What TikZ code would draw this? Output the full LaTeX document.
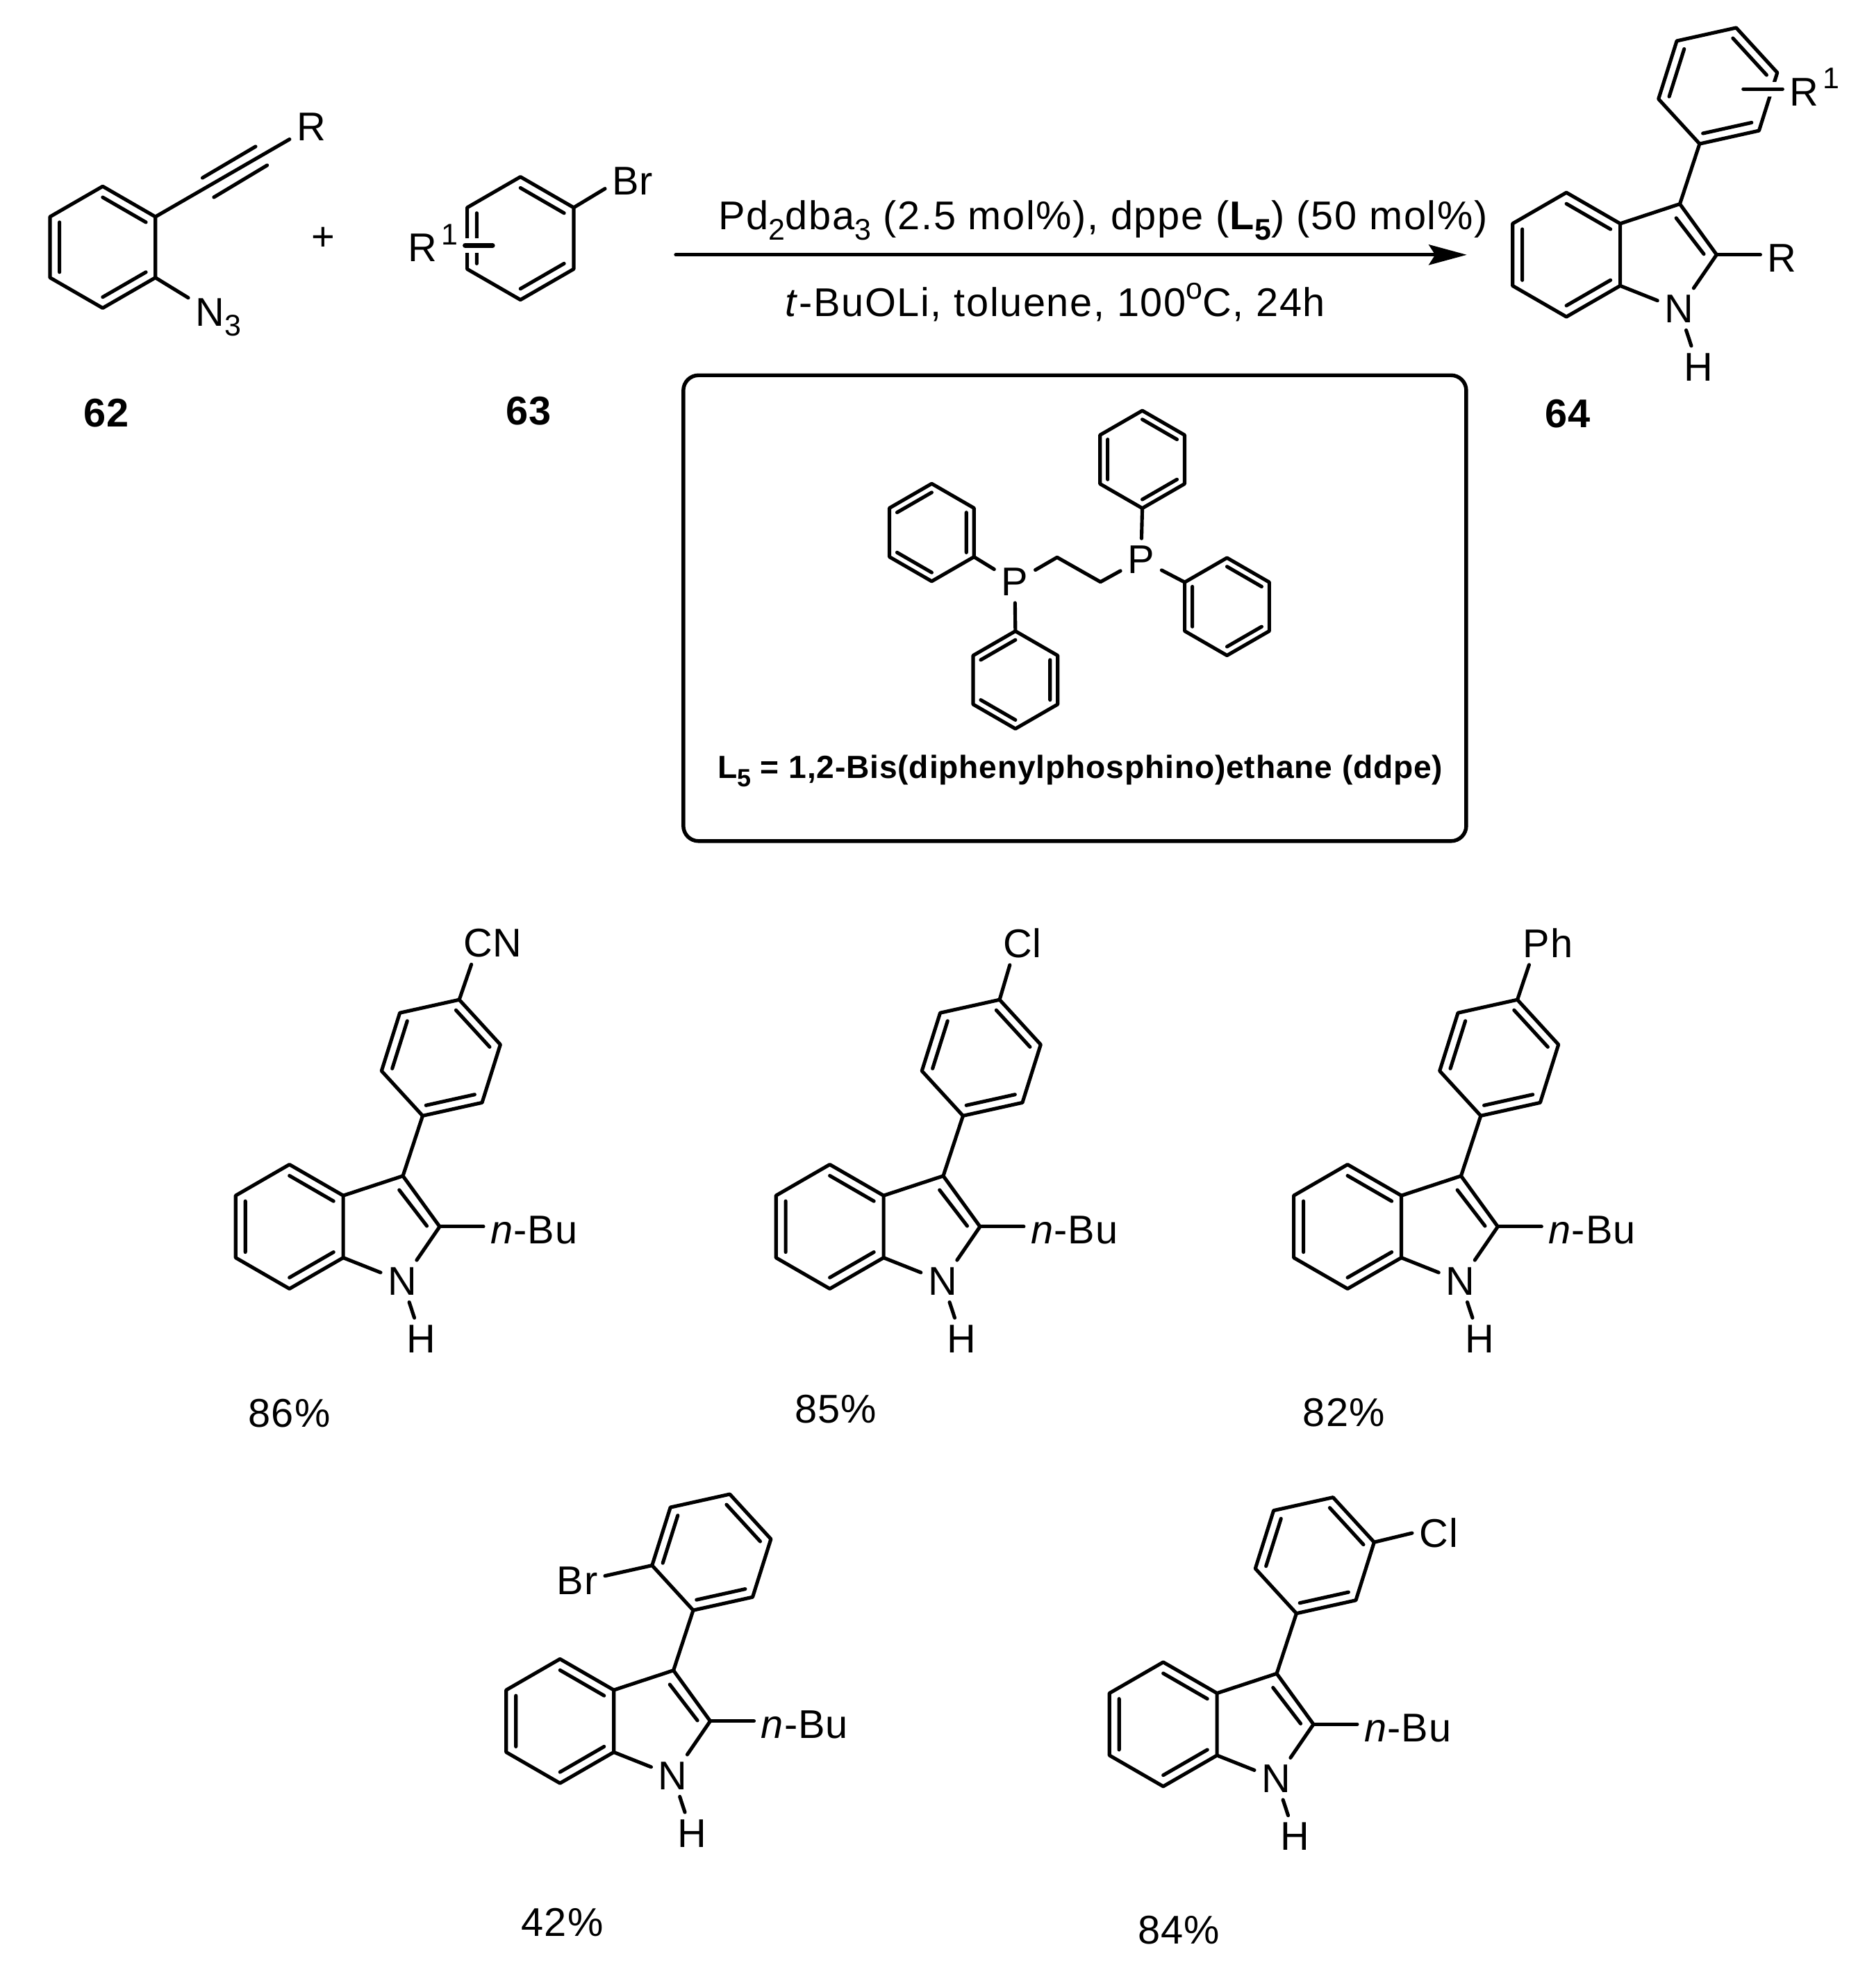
\documentclass[tikz,border=0pt]{standalone}
\usepackage{fontspec}
\setmainfont[LetterSpace=1.8]{Liberation Sans}
\newfontfamily\widefont[LetterSpace=2.8]{Liberation Sans}
\usetikzlibrary{arrows.meta,calc}

\tikzset{
    bond/.style={line width=0.8pt, line join=round, line cap=round},
    halo/.style={white, line width=0.115cm},
    atom/.style={inner sep=0.05cm, font=\fontsize{9}{11}\selectfont},
    cmpd/.style={inner sep=0pt, font=\fontsize{9}{11}\selectfont\bfseries},
    reagent/.style={inner sep=0pt, font=\fontsize{9}{11}\selectfont},
    condition/.style={inner sep=0pt, font=\widefont\fontsize{9}{11}\selectfont},
    ligandbox/.style={draw, line width=0.85pt, rounded corners=0.12cm, minimum width=6.175cm, minimum height=3.674cm}
}

\newcommand{\lowdigit}[1]{\raisebox{-2.3pt}{\fontsize{6.7}{8}\selectfont #1}}
\newcommand{\highdigit}[1]{\raisebox{3.8pt}{\fontsize{6.7}{8}\selectfont #1}}

% ring name, centre, angle of the first double bond
\newcommand{\benzene}[4][.49]{%
    \begin{scope}[shift={(#3)}]
        \path (#4:#1) coordinate (#2-1) (#4+60:#1) coordinate (#2-2) (#4+120:#1) coordinate (#2-3)
              (#4+180:#1) coordinate (#2-4) (#4+240:#1) coordinate (#2-5) (#4+300:#1) coordinate (#2-6);
        \draw[bond] (#2-1) -- (#2-2) -- (#2-3) -- (#2-4) -- (#2-5) -- (#2-6) -- cycle;
        \draw[bond] (#4:.82*#1) -- (#4+60:.82*#1) (#4+120:.82*#1) -- (#4+180:.82*#1) (#4+240:.82*#1) -- (#4+300:.82*#1);
    \end{scope}}

% 3-aryl indole: name, centre of the benzo ring, group on C2
\newcommand{\arylindole}[3]{%
    \begin{scope}[shift={(#2)}]
        \benzene{#1a}{0,0}{30}
        \benzene[.48]{#1b}{1.195,1.332}{12.5}
        \coordinate (#1c3) at (0.895,0.40);
        \coordinate (#1c2) at (1.185,0);
        \node[atom] (#1n) at (0.89,-0.43) {N};
        \node[atom] (#1h) at (1.04,-0.885) {H};
        \node[atom, anchor=west] (#1sub) at (1.53,-0.03) {#3};
        \draw[bond] (#1a-1) -- (#1c3) -- (#1c2) -- (#1n) -- (#1a-6);
        \draw[bond] (0.866,0.289) -- (1.084,0.005);
        \draw[bond] (#1c3) -- (#1b-5);
        \draw[bond] (#1n) -- (#1h);
        \draw[bond] (#1c2) -- (#1c2 -| #1sub.west);
    \end{scope}}

\begin{document}
\begin{tikzpicture}
\useasboundingbox (0,0) rectangle (14.78,15.68);

% Compound 62
\benzene[.48]{sa}{0.81,13.73}{30}
\node[atom] (sar) at (2.455,14.68) {R};
\node[atom, anchor=base west] (san) at (1.485,13.11) {N\lowdigit{3}};
\draw[bond] (sa-1) -- (sar);
\draw[bond] (1.597,14.277) -- (2.016,14.524);
\draw[bond] (1.687,14.124) -- (2.107,14.376);
\draw[bond] (sa-6) -- (san.147);
\node[cmpd] (salabel) at (0.84,12.42) {62};

\node[reagent] (plus) at (2.55,13.794) {+};

% Compound 63
\benzene[.485]{sb}{4.105,13.80}{30}
\node[atom] (sbbr) at (4.99,14.25) {Br};
\node[atom, anchor=base west] (sbr) at (3.16,13.615) {R\kern1pt\highdigit{1}};
\coordinate (sbcross) at (3.885,13.744);
\draw[bond] (sb-1) -- (sbbr.195);
\draw[halo] (sbcross) -- (sbcross -| sbr.east);
\draw[bond, line width=1.1pt] (sbcross) -- (sbcross -| sbr.east);
\node[cmpd] (sblabel) at (4.17,12.44) {63};

% Reaction arrow
\coordinate (arrowstart) at (5.33,13.67);
\coordinate (arrowend) at (11.57,13.67);
\draw[bond, -{Stealth[length=0.30cm, width=0.16cm, inset=0.05cm]}] (arrowstart) -- (arrowend);
\node[condition] (topreagent) at (8.70,13.94) {Pd\lowdigit{2}dba\lowdigit{3} (2.5 mol\%), dppe (\textbf{L\lowdigit{5}}) (50 mol\%)};
\node[condition] (botreagent) at (8.325,13.295) {\textit{t}-BuOLi, toluene, 100\highdigit{o}C, 24h};

% Compound 64
\arylindole{pr}{12.355,13.671}{R}
\node[atom, anchor=base west] (prr) at (14.06,14.846) {R\kern1pt\highdigit{1}};
\coordinate (prcross) at (13.75,14.978);
\draw[halo] (prcross) -- (prcross -| prr.west);
\draw[bond] (prcross) -- (prcross -| prr.west);
\node[cmpd] (prlabel) at (12.367,12.415) {64};

% Ligand box
\node[ligandbox] (box) at (8.4775,10.883) {};
\benzene[.385]{la}{7.349,11.48}{90}
\benzene[.385]{lb}{8.009,10.317}{90}
\benzene[.385]{lc}{9.01,12.056}{30}
\benzene[.385]{ld}{9.678,10.895}{30}
\node[atom] (pa) at (8.004,11.09) {P};
\node[atom] (pb) at (9.00,11.267) {P};
\coordinate (cha) at (8.338,11.284);
\coordinate (chb) at (8.68,11.09);
\draw[bond] (pa) -- (cha) -- (chb) -- (pb);
\draw[bond] (la-5) -- (pa);
\draw[bond] (pa) -- (lb-1);
\draw[bond] (lc-5) -- (pb);
\draw[bond] (pb) -- (ld-3);
\node[inner sep=0pt, font=\fontsize{7.2}{9}\selectfont\bfseries] (ligand) at (8.52,9.60) {L\raisebox{-1.8pt}{\fontsize{5.6}{7}\selectfont 5} = 1,2-Bis(diphenylphosphino)ethane (ddpe)};

% Products, first row
\arylindole{pa}{2.283,6.005}{\textit{n}-Bu}
\node[atom] (pacn) at (3.887,8.242) {CN};
\draw[bond] (pab-2) -- (pacn.225);
\node[reagent] (payield) at (2.283,4.533) {86\%};

\arylindole{pc}{6.545,6.005}{\textit{n}-Bu}
\node[atom] (pccl) at (8.065,8.242) {Cl};
\draw[bond] (pcb-2) -- (pccl.240);
\node[reagent] (pcyield) at (6.59,4.566) {85\%};

\arylindole{pd}{10.629,6.005}{\textit{n}-Bu}
\node[atom] (pdph) at (12.21,8.242) {Ph};
\draw[bond] (pdb-2) -- (pdph.229);
\node[reagent] (pdyield) at (10.60,4.54) {82\%};

% Products, second row
\arylindole{pe}{4.417,2.105}{\textit{n}-Bu}
\node[atom] (pebr) at (4.554,3.212) {Br};
\draw[bond] (peb-4) -- (pebr.10);
\node[reagent] (peyield) at (4.436,0.515) {42\%};

\arylindole{pf}{9.175,2.08}{\textit{n}-Bu}
\node[atom] (pfcl) at (11.347,3.588) {Cl};
\draw[bond] (pfb-1) -- (pfcl.west);
\node[reagent] (pfyield) at (9.297,0.456) {84\%};

\end{tikzpicture}
\end{document}
